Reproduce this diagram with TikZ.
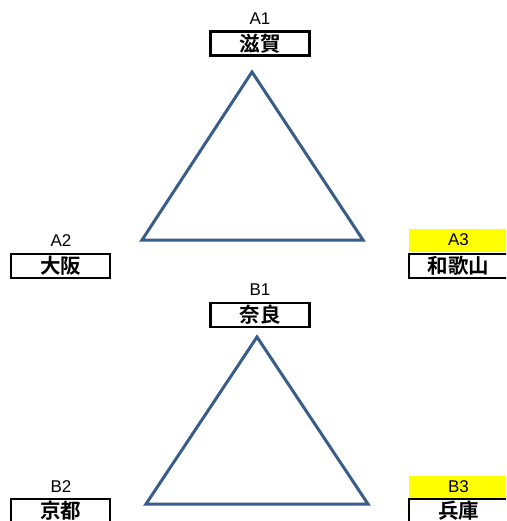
\documentclass[tikz,border=0pt]{standalone}
\usepackage{fontspec}
\setmainfont{Liberation Sans}
\newfontfamily\jpfont{Noto Sans CJK JP}[BoldFont={* Bold}]
\definecolor{triblue}{RGB}{56,93,138}
\definecolor{hiyellow}{RGB}{255,255,0}
\begin{document}
\begin{tikzpicture}[x=1pt,y=-1pt,
  namebox/.style={draw=black,line width=2.7pt,minimum width=99pt,minimum height=24pt,inner sep=0pt,font=\jpfont\bfseries\fontsize{20.5}{20.5}\selectfont},
  tag/.style={inner sep=0pt,font=\fontsize{17}{17}\selectfont},
  tagfill/.style={fill=hiyellow,minimum width=99pt,minimum height=23pt,inner sep=0pt,font=\fontsize{17}{17}\selectfont},
  tri/.style={draw=triblue,line width=3pt,line join=miter}]
\useasboundingbox (0,0) rectangle (506,521);
\clip (0,0) rectangle (506,521);
% group A
\node[tag] (a1t) at (260,19) {A1};
\node[namebox] (a1) at (260,43.5) {滋賀};
\node[tag] (a2t) at (61,241) {A2};
\node[namebox] (a2) at (60.5,266) {大阪};
\node[tagfill] (a3t) at (458.5,240) {A3};
\node[namebox] (a3) at (458.5,266) {和歌山};
\draw[tri] (252,72) -- (142,240) -- (363,240) -- cycle;
% group B
\node[tag] (b1t) at (260,290) {B1};
\node[namebox] (b1) at (260,315) {奈良};
\node[tag] (b2t) at (61,487) {B2};
\node[namebox] (b2) at (60.5,511) {京都};
\node[tagfill] (b3t) at (458.5,487) {B3};
\node[namebox] (b3) at (458.5,511) {兵庫};
\draw[tri] (257,337) -- (146,504) -- (368,504) -- cycle;
\end{tikzpicture}
\end{document}
